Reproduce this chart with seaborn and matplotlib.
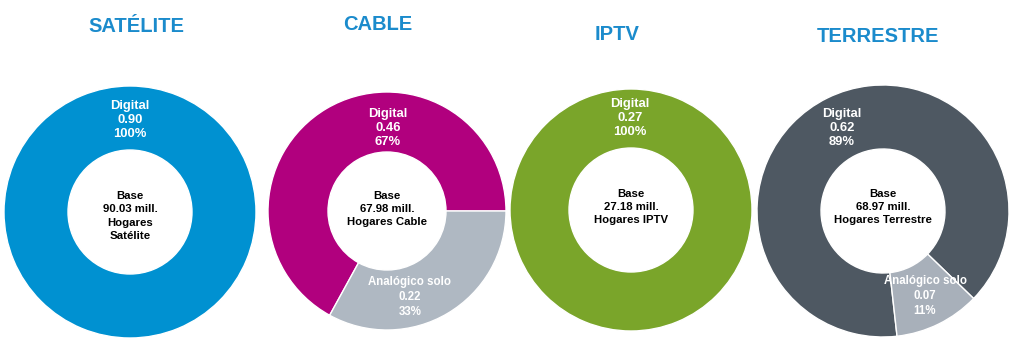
import matplotlib
matplotlib.use('Agg')
import matplotlib.pyplot as plt
import seaborn as sns

# datos
titulos = ['SATÉLITE', 'CABLE', 'IPTV', 'TERRESTRE']
digital_mill = [0.90, 0.46, 0.27, 0.62]
digital_pct = [100, 67, 100, 89]
analog_mill = [0.0, 0.22, 0.0, 0.07]
analog_pct = [0, 33, 0, 11]
base_mill = [90.03, 67.98, 27.18, 68.97]
base_txt = ['Hogares\nSatélite', 'Hogares Cable', 'Hogares IPTV', 'Hogares Terrestre']

# estilo / posiciones (px)
colores_digital = ['#0091d1', '#b1007e', '#7aa52a', '#4e5862']
colores_analog = ['#afb8c2', '#afb8c2', '#afb8c2', '#a8b0ba']
centros = [(130, 212), (387, 211), (631, 210), (883, 211)]
radio_ext = [126, 119, 121, 126]
radio_int = [62, 59, 62, 62]
inicio = [90, 0, 90, -44]
titulo_pos = [(136, 26), (378, 25), (617, 35), (878, 36)]
dig_lab = [(0, -92), (1, -83), (-1, -92), (-41, -83)]
ana_lab = [None, (23, 86), None, (42, 85)]
base_dy = [4, -2, -3, -4]

sns.set_theme(style='white')
plt.rcParams['font.family'] = ['Liberation Sans', 'DejaVu Sans']

W, H = 1023, 355
fig = plt.figure(figsize=(W / 100, H / 100), dpi=100)
fig.patch.set_facecolor('white')

caja = 140
for i in range(4):
    cx, cy = centros[i]
    cy_m = H - cy
    ax = fig.add_axes([(cx - caja) / W, (cy_m - caja) / H, 2 * caja / W, 2 * caja / H])
    valores = [digital_pct[i], analog_pct[i]]
    cols = [colores_digital[i], colores_analog[i]]
    vals = [v for v in valores if v > 0]
    cs = [c for v, c in zip(valores, cols) if v > 0]
    ax.pie(vals, colors=cs, radius=radio_ext[i], startangle=inicio[i],
           counterclock=True,
           wedgeprops=dict(width=radio_ext[i] - radio_int[i], edgecolor='white', linewidth=1))
    ax.set_xlim(-caja, caja)
    ax.set_ylim(-caja, caja)
    ax.set_aspect('equal')
    ax.axis('off')

    dx, dy = dig_lab[i]
    ax.text(dx, -dy, f'Digital\n{digital_mill[i]:.2f}\n{digital_pct[i]}%',
            ha='center', va='center', color='white', fontsize=9.4,
            fontweight='bold', linespacing=1.22)
    if ana_lab[i] is not None:
        dx, dy = ana_lab[i]
        ax.text(dx, -dy, f'Analógico solo\n{analog_mill[i]:.2f}\n{analog_pct[i]}%',
                ha='center', va='center', color='white', fontsize=8.3,
                fontweight='bold', linespacing=1.3)
    ax.text(0, -base_dy[i], f'Base\n{base_mill[i]:.2f} mill.\n{base_txt[i]}',
            ha='center', va='center', color='black', fontsize=8.2,
            fontweight='bold', linespacing=1.4)

    tx, ty = titulo_pos[i]
    fig.text(tx / W, 1 - ty / H, titulos[i], ha='center', va='center',
             color='#1b8bcc', fontsize=14.5, fontweight='bold')

fig.savefig('out.png', dpi=100, facecolor='white')
